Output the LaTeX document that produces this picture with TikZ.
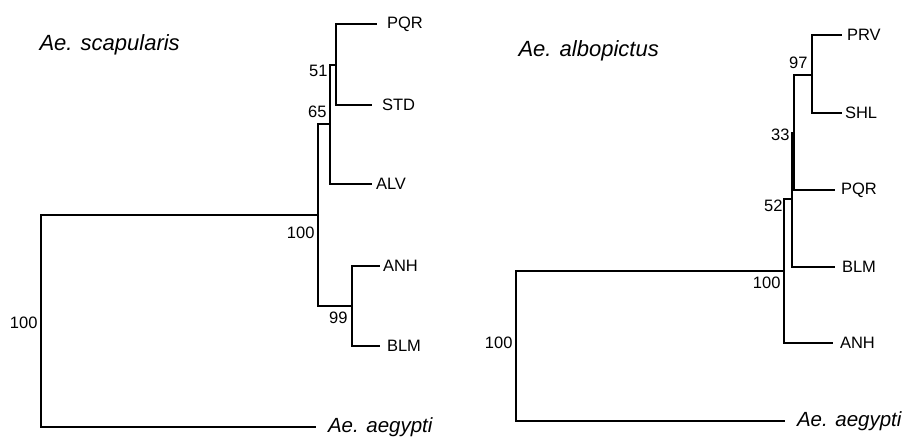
\documentclass[tikz,border=0pt]{standalone}
\usepackage{fontspec}
\setmainfont{Liberation Sans}
\usetikzlibrary{calc}
\tikzset{
  leaf/.style={anchor=west,inner sep=0pt,outer sep=6pt,font=\fontsize{16.5}{19}\selectfont},
  boot/.style={anchor=east,inner sep=3pt,font=\fontsize{16.5}{19}\selectfont},
  taxon/.style={anchor=base west,inner sep=0pt,font=\fontsize{22}{26}\selectfont\itshape},
  outgroup/.style={leaf,outer sep=12pt,font=\fontsize{20.5}{25}\selectfont\itshape}
}

\begin{document}
\begin{tikzpicture}[x=1pt,y=-1pt,line width=1.1pt]
  \useasboundingbox (0,0) rectangle (904,437);
  \node[taxon] (tL) at (39,50) {Ae. scapularis};
  \node[taxon] (tR) at (518,56) {Ae. albopictus};
  % left tree
  \coordinate (lroot) at (41,321); \coordinate (l100) at (318,215); \coordinate (l65) at (330,124);
  \coordinate (l51) at (336,65); \coordinate (l99) at (352,306);
  \node[leaf,outer sep=10pt] (lPQR) at (377,24) {PQR};
  \node[leaf,outer sep=10pt] (lSTD) at (372,105) {STD};
  \node[leaf,outer sep=4pt] (lALV) at (372,184) {ALV};
  \node[leaf,outer sep=3pt] (lANH) at (380,266) {ANH};
  \node[leaf,outer sep=7pt] (lBLM) at (380,346) {BLM};
  \node[outgroup] (lAeg) at (316,427) {Ae. aegypti};
  % right tree
  \coordinate (rroot) at (516,346); \coordinate (r100) at (784,271); \coordinate (r52) at (792,199);
  \coordinate (r33) at (794,133); \coordinate (r97) at (812,75);
  \node[leaf,outer sep=5pt] (rPRV) at (842,35) {PRV};
  \node[leaf,outer sep=3pt] (rSHL) at (842,113) {SHL};
  \node[leaf,outer sep=6pt] (rPQR) at (835,190) {PQR};
  \node[leaf,outer sep=7pt] (rBLM) at (835,267) {BLM};
  \node[leaf,outer sep=7pt] (rANH) at (833,343) {ANH};
  \node[outgroup] (rAeg) at (785,421) {Ae. aegypti};
  \foreach \a/\b in {lroot/l100,lroot/lAeg,l100/l65,l100/l99,l65/l51,l65/lALV,l51/lPQR,l51/lSTD,l99/lANH,l99/lBLM,
    rroot/r100,rroot/rAeg,r100/r52,r100/rANH,r52/r33,r52/rBLM,r33/r97,r33/rPQR,r97/rPRV,r97/rSHL}
    \draw (\a) |- (\b);
  % bootstrap values
  \node[boot] (bl1) at ([yshift=-2pt]lroot) {100};
  \node[boot] (bl2) at ([yshift=-18pt]l100) {100};
  \node[boot] (bl3) at ([yshift=12pt]l65) {65};
  \node[boot] (bl4) at ([xshift=-5pt,yshift=-6pt]l51) {51};
  \node[boot] (bl5) at ([xshift=-1pt,yshift=-12pt]l99) {99};
  \node[boot] (br1) at ([yshift=3pt]rroot) {100};
  \node[boot] (br2) at ([yshift=-12pt]r100) {100};
  \node[boot] (br3) at ([xshift=-6pt,yshift=-7pt]r52) {52};
  \node[boot] (br4) at ([xshift=-1pt,yshift=-2pt]r33) {33};
  \node[boot] (br5) at ([xshift=-1pt,yshift=12pt]r97) {97};
\end{tikzpicture}
\end{document}
